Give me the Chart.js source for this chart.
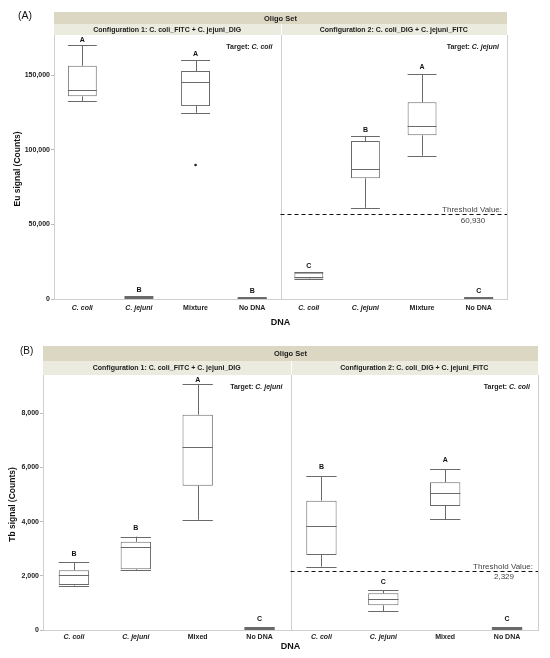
<!DOCTYPE html>
<html>
<head>
<meta charset="utf-8">
<script src="https://cdn.jsdelivr.net/npm/chart.js@4.4.1/dist/chart.umd.min.js"></script>
<style>
  body { margin: 0; background: #fff; width: 550px; height: 658px; position: relative; overflow: hidden; }
  .panel { position: absolute; left: 0; width: 550px; }
</style>
</head>
<body>
<div class="panel" style="top:0;height:330px"><canvas id="chartA"></canvas></div>
<div class="panel" style="top:330px;height:328px"><canvas id="chartB"></canvas></div>
<script>
// categories / headers
const categoriesA = ["C. coli", "C. jejuni", "Mixture", "No DNA", "C. coli", "C. jejuni", "Mixture", "No DNA"];
const categoriesB = ["C. coli", "C. jejuni", "Mixed", "No DNA", "C. coli", "C. jejuni", "Mixed", "No DNA"];
const configLabels = ["Configuration 1: C. coli_FITC + C. jejuni_DIG", "Configuration 2: C. coli_DIG + C. jejuni_FITC"];
const targetsA = ["C. coli", "C. jejuni"];
const targetsB = ["C. jejuni", "C. coli"];

// (A) Eu signal box plots
const euMin = [132600, 800, 124700, 600, 13500, 61100, 96000, 600];
const euQ1 = [135700, 1000, 129200, 700, 13800, 80800, 109600, 700];
const euMed = [139700, 1200, 145300, 800, 14700, 87000, 115800, 800];
const euQ3 = [156200, 1500, 152700, 1000, 17600, 105800, 131700, 1000];
const euMax = [170100, 1700, 160000, 1100, 17900, 108900, 150700, 1100];
const euOutlier = [null, null, 89700, null, null, null, null, null];
const euLetters = ["A", "B", "A", "B", "C", "B", "A", "C"];
const euTicks = [0, 50000, 100000, 150000];
const euThreshold = 56700;
const euThresholdText = "60,930";

// (B) Tb signal box plots
const tbMin = [1640, 2200, 4070, 50, 2337, 690, 4085, 50];
const tbQ1 = [1660, 2240, 5325, 60, 2768, 911, 4576, 60];
const tbMed = [2018, 3063, 6764, 80, 3849, 1144, 5044, 80];
const tbQ3 = [2203, 3258, 7944, 90, 4771, 1354, 5450, 90];
const tbMax = [2498, 3443, 9066, 100, 5683, 1465, 5941, 100];
const tbLetters = ["B", "B", "A", "C", "B", "C", "A", "C"];
const tbTicks = [0, 2000, 4000, 6000, 8000];
const tbThreshold = 2180;
const tbThresholdText = "2,329";

const FONT = '"Liberation Sans", Arial, sans-serif';
Chart.defaults.font.family = FONT;

function crisp(v) { return Math.round(v) + 0.5; }

function panelPlugin(p) {
  return {
    id: "panel" + p.tag,
    afterDatasetsDraw(chart) {
      const { ctx, chartArea: a, scales: { x, y } } = chart;
      const half = (x.getPixelForValue(1) - x.getPixelForValue(0)) * p.boxFrac / 2;
      ctx.save();
      ctx.strokeStyle = "#6a6a6a";
      ctx.lineWidth = 1;
      p.min.forEach((lo, i) => {
        const cx = x.getPixelForValue(i);
        const yl = y.getPixelForValue(lo), yh = y.getPixelForValue(p.max[i]);
        const y1 = y.getPixelForValue(p.q1[i]), y3 = y.getPixelForValue(p.q3[i]);
        const ym = y.getPixelForValue(p.med[i]);
        ctx.beginPath();
        ctx.moveTo(crisp(cx), yl); ctx.lineTo(crisp(cx), y1);
        ctx.moveTo(crisp(cx), y3); ctx.lineTo(crisp(cx), yh);
        [yl, yh, ym].forEach(v => { ctx.moveTo(cx - half, crisp(v)); ctx.lineTo(cx + half, crisp(v)); });
        ctx.stroke();
        // group letters
        ctx.fillStyle = "#111";
        ctx.font = "bold 7px " + FONT;
        ctx.textAlign = "center";
        ctx.textBaseline = "middle";
        ctx.fillText(p.letters[i], cx, Math.max(yh - p.letterGap, a.top + 5));
      });
      ctx.restore();
    },
    afterDraw(chart) {
      const { ctx, chartArea: a, scales: { x, y } } = chart;
      const mid = (x.getPixelForValue(3) + x.getPixelForValue(4)) / 2;
      ctx.save();
      // header bands
      ctx.fillStyle = "#dcd7c3";
      ctx.fillRect(a.left, p.bandTop, a.right - a.left, p.bandMid - p.bandTop);
      ctx.fillStyle = "#ecebdf";
      ctx.fillRect(a.left, p.bandMid, a.right - a.left, a.top - p.bandMid);
      ctx.fillStyle = "#fff";
      ctx.fillRect(Math.round(mid), p.bandMid, 1, a.top - p.bandMid);
      ctx.fillStyle = "#1a1a1a";
      ctx.textAlign = "center";
      ctx.textBaseline = "middle";
      ctx.font = "bold 7.5px " + FONT;
      ctx.fillText("Oligo Set", (a.left + a.right) / 2, (p.bandTop + p.bandMid) / 2 + 0.5);
      ctx.font = "bold 7px " + FONT;
      ctx.fillText(configLabels[0], (a.left + mid) / 2, (p.bandMid + a.top) / 2 + 0.5);
      ctx.fillText(configLabels[1], (mid + a.right) / 2, (p.bandMid + a.top) / 2 + 0.5);

      // frame lines
      ctx.strokeStyle = "#cfcfcf";
      ctx.lineWidth = 1;
      ctx.beginPath();
      ctx.moveTo(crisp(mid), a.top); ctx.lineTo(crisp(mid), a.bottom);
      ctx.moveTo(crisp(a.right), a.top); ctx.lineTo(crisp(a.right), a.bottom);
      ctx.stroke();

      // targets
      ctx.textAlign = "right";
      [mid - 8, a.right - 8].forEach((rx, k) => {
        ctx.font = "italic bold 7px " + FONT;
        const w = ctx.measureText(p.targets[k]).width;
        ctx.fillText(p.targets[k], rx, a.top + 12);
        ctx.font = "bold 7px " + FONT;
        ctx.fillText("Target: ", rx - w, a.top + 12);
      });

      // threshold
      const ty = y.getPixelForValue(p.threshold);
      ctx.strokeStyle = "#111";
      ctx.lineWidth = 1.2;
      ctx.setLineDash([4, 3]);
      ctx.beginPath();
      ctx.moveTo(mid, crisp(ty)); ctx.lineTo(a.right, crisp(ty));
      ctx.stroke();
      ctx.setLineDash([]);
      ctx.fillStyle = "#444";
      ctx.font = "8px " + FONT;
      ctx.textAlign = "right";
      ctx.fillText("Threshold Value:", a.right - 5, ty - 4.5);
      ctx.textAlign = "center";
      ctx.fillText(p.thresholdText, a.right - 34, ty + 6);

      // titles
      ctx.fillStyle = "#111";
      ctx.font = "bold 9px " + FONT;
      ctx.fillText("DNA", (a.left + a.right) / 2, p.xTitleY);
      ctx.save();
      ctx.translate(p.yTitleX, (a.top + a.bottom) / 2 + 2);
      ctx.rotate(-Math.PI / 2);
      ctx.font = "bold 8.5px " + FONT;
      ctx.fillText(p.yTitle, 0, 0);
      ctx.restore();
      ctx.font = p.tagFont + " " + FONT;
      ctx.textAlign = "left";
      ctx.fillText(p.tag, p.tagX, p.tagY);
      ctx.restore();
    }
  };
}

function makePanel(id, p) {
  new Chart(document.getElementById(id), {
    type: "bar",
    data: {
      labels: p.labels,
      datasets: [
        {
          label: "IQR",
          data: p.q1.map((v, i) => [v, p.q3[i]]),
          backgroundColor: "#ffffff",
          borderColor: "#6a6a6a",
          borderWidth: 1,
          borderSkipped: false,
          barPercentage: p.boxFrac,
          categoryPercentage: 1
        },
        {
          type: "line",
          label: "Outlier",
          data: p.outliers,
          showLine: false,
          pointRadius: 1.3,
          pointBackgroundColor: "#222",
          pointBorderWidth: 0
        }
      ]
    },
    options: {
      responsive: true,
      maintainAspectRatio: false,
      animation: false,
      layout: { padding: { top: p.padTop, right: p.padRight, left: 0, bottom: 0 } },
      plugins: { legend: { display: false }, tooltip: { enabled: false } },
      scales: {
        x: {
          grid: { display: false, drawTicks: false, tickLength: 0 },
          border: { color: "#cfcfcf" },
          ticks: {
            padding: p.xPad,
            color: "#222",
            font: c => ({ size: 7, weight: "bold", style: c.index % 4 < 2 ? "italic" : "normal" })
          },
          afterFit: s => { s.height = p.xHeight; }
        },
        y: {
          min: 0,
          max: p.yMax,
          grid: { drawOnChartArea: false, tickLength: 3, color: "#bbb" },
          border: { color: "#cfcfcf" },
          ticks: { padding: 1, color: "#222", font: { size: 7, weight: "bold" } },
          afterBuildTicks: s => { s.ticks = p.ticks.map(v => ({ value: v })); },
          afterFit: s => { s.width = p.yWidth; }
        }
      }
    },
    plugins: [panelPlugin(p)]
  });
}

makePanel("chartA", {
  tag: "(A)", tagFont: "10.5px", tagX: 18, tagY: 16,
  labels: categoriesA, targets: targetsA,
  min: euMin, q1: euQ1, med: euMed, q3: euQ3, max: euMax, outliers: euOutlier,
  letters: euLetters, ticks: euTicks, yMax: 176800,
  threshold: euThreshold, thresholdText: euThresholdText,
  yTitle: "Eu signal (Counts)", yTitleX: 18, xTitleY: 323,
  boxFrac: 0.51, letterGap: 6.5, xPad: 5,
  padTop: 35, padRight: 43, yWidth: 54, xHeight: 31,
  bandTop: 12, bandMid: 24
});

makePanel("chartB", {
  tag: "(B)", tagFont: "10px", tagX: 20, tagY: 21,
  labels: categoriesB, targets: targetsB,
  min: tbMin, q1: tbQ1, med: tbMed, q3: tbQ3, max: tbMax, outliers: tbMin.map(() => null),
  letters: tbLetters, ticks: tbTicks, yMax: 9410,
  threshold: tbThreshold, thresholdText: tbThresholdText,
  yTitle: "Tb signal (Counts)", yTitleX: 13, xTitleY: 317,
  boxFrac: 0.49, letterGap: 8.5, xPad: 3,
  padTop: 45, padRight: 12, yWidth: 43, xHeight: 28,
  bandTop: 16, bandMid: 31
});
</script>
</body>
</html>
